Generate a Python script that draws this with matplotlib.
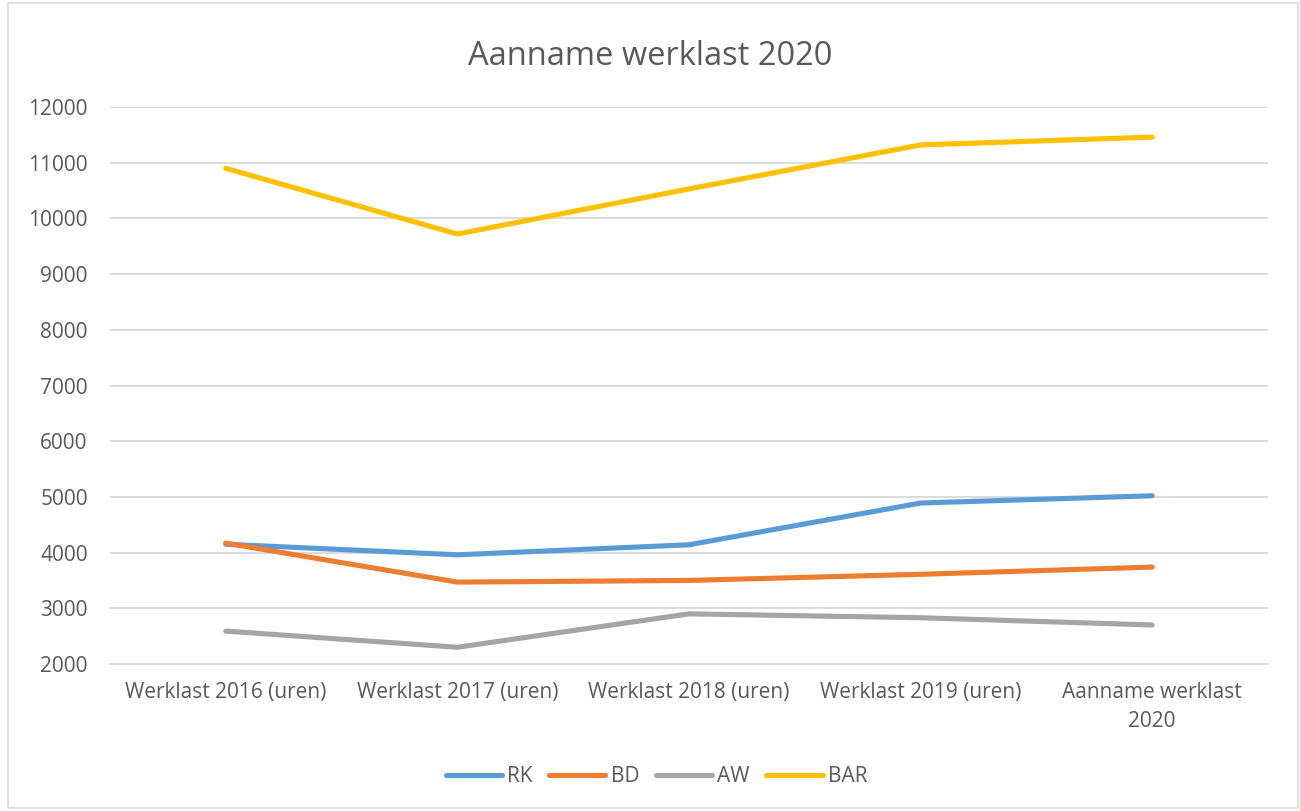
import numpy as np
import matplotlib
matplotlib.use("Agg")
import matplotlib.pyplot as plt
from matplotlib.patches import Rectangle

categories = ["Werklast 2016 (uren)", "Werklast 2017 (uren)", "Werklast 2018 (uren)",
              "Werklast 2019 (uren)", "Aanname werklast\n2020"]
rk = [4150, 3960, 4140, 4890, 5020]
bd = [4170, 3470, 3500, 3610, 3740]
aw = [2590, 2300, 2900, 2830, 2700]
bar = [10900, 9720, 10530, 11320, 11460]

series = [("RK", rk, "#5B9BD5"), ("BD", bd, "#ED7D31"),
          ("AW", aw, "#A5A5A5"), ("BAR", bar, "#FFC000")]

plt.rcParams['font.family'] = ['Open Sans', 'DejaVu Sans']
text_color = "#595959"
grid_color = "#D9D9D9"

fig = plt.figure(figsize=(13, 8.11), dpi=100)
ax = fig.add_axes([0.0846, 0.1813, 0.8908, 0.6867])

x = np.arange(len(categories))
for name, vals, col in series:
    ax.plot(x, vals, color=col, lw=3.7, label=name, solid_capstyle='round',
            solid_joinstyle='round')

ax.set_xlim(-0.5, len(categories) - 0.5)
ax.set_ylim(2000, 12000)
ax.set_yticks(np.arange(2000, 12001, 1000))
ax.yaxis.grid(True, color=grid_color, lw=1.3)
ax.set_axisbelow(True)
for s in ["top", "right", "left"]:
    ax.spines[s].set_visible(False)
ax.spines["bottom"].set_color(grid_color)
ax.spines["bottom"].set_linewidth(1.3)

ax.set_xticks(x)
ax.set_xticklabels(categories, fontsize=15, color=text_color, linespacing=1.5)
ax.tick_params(axis='x', length=0, pad=13)
ax.tick_params(axis='y', length=0, pad=16, labelsize=15, labelcolor=text_color)

fig.text(0.5, 0.93, "Aanname werklast 2020", ha='center', va='center',
         fontsize=23.5, color=text_color)

leg = fig.legend(loc='center', bbox_to_anchor=(0.505, 0.042), ncol=4, frameon=False,
                 fontsize=15, handlelength=2.7, columnspacing=0.8, handletextpad=0.25)
for t in leg.get_texts():
    t.set_color(text_color)

fig.patches.append(Rectangle((8 / 1300, 3 / 811), 1290 / 1300, 805 / 811,
                             transform=fig.transFigure, fill=False,
                             edgecolor=grid_color, lw=1.2))

fig.savefig("out.png", dpi=100, facecolor="white")
